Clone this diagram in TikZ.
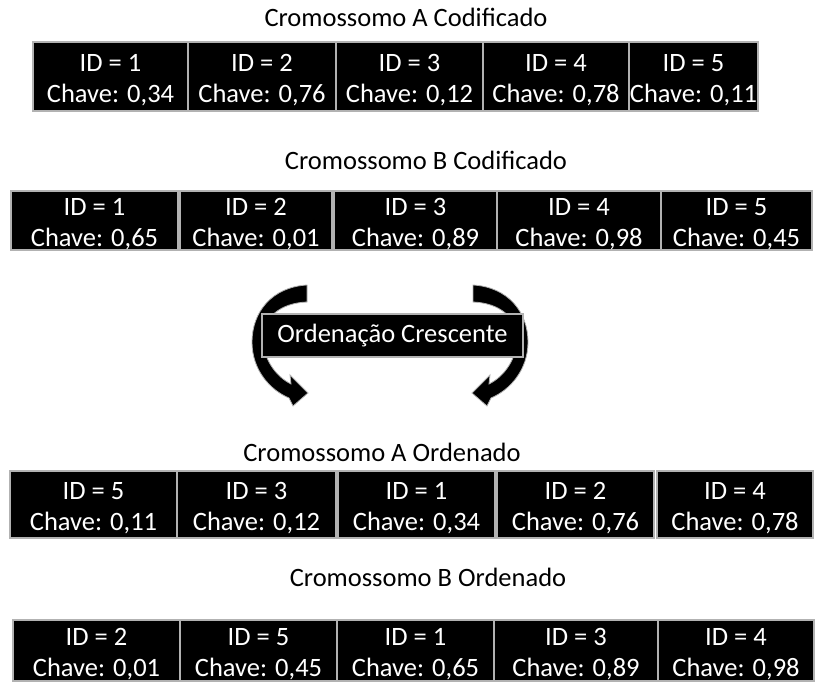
\documentclass[tikz,border=0pt]{standalone}
\usepackage{fontspec}
\setmainfont{Carlito}
\usepackage{tikz}
\usetikzlibrary{positioning,calc}

% one row of coded genes: prefix, top, bottom, list of left/right/id/key
\newcommand{\generow}[4]{%
  \foreach \xa/\xb/\gid/\gkey [count=\i] in {#4} {
    \pgfmathsetmacro\gw{\xb-\xa}
    \pgfmathsetmacro\gh{#3-#2}
    \node[gene, minimum width=\gw pt, minimum height=\gh pt] (#1\i)
      at ({(\xa+\xb)/2},{(#2+#3)/2}) {\rule{0pt}{24pt}ID = \gid\\Chave: 0,\gkey};
  }%
}

\begin{document}
\begin{tikzpicture}[x=1pt, y=-1pt,
    txt/.style={font=\fontsize{26.5}{30.5}\selectfont, inner sep=0pt},
    gene/.style={txt, draw=gray!60, line width=1.2pt, fill=black, text=white, align=center},
    sortarrow/.pic={
        \filldraw[fill=black, draw=gray!60, line width=0.8pt]
            (307,285) .. controls (272,287) and (252,312) .. (252,342)
            .. controls (252,370) and (270,390) .. (289,398)
            -- (293,406) -- (308,393) -- (290,375) -- (291,384)
            .. controls (275,376) and (263,358) .. (263,338)
            .. controls (263,318) and (280,303) .. (307,302) -- cycle;
    }]
    \useasboundingbox (0,0) rectangle (823,682);

    % coded chromosomes
    \node[txt] (titleA) at (406,17) {Cromossomo A Codificado};
    \generow{codA}{42}{111}{33/188/1/34, 188/336/2/76, 336/483/3/12, 483/629/4/78, 629/758/5/11}

    \node[txt] (titleB) at (426,160) {Cromossomo B Codificado};
    \generow{codB}{191}{250}{11/178/1/65, 180/332/2/01, 334/497/3/89, 497/661/4/98, 661/812/5/45}

    % sorting step
    \pic at (0,0) {sortarrow};
    \pic[xscale=-1] at (780,0) {sortarrow};
    \node[gene, minimum width=261pt, minimum height=43pt] (sortbox) at (392.5,335.5) {Ordenação Crescente};

    % sorted chromosomes
    \node[txt] (titleC) at (382,452) {Cromossomo A Ordenado};
    \generow{ordA}{471}{538}{10/177/5/11, 177/336/3/12, 338/495/1/34, 497/654/2/76, 657/813/4/78}

    \node[txt] (titleD) at (428,577) {Cromossomo B Ordenado};
    \generow{ordB}{620}{681}{13/180/2/01, 180/337/5/45, 337/494/1/65, 494/658/3/89, 658/814/4/98}
\end{tikzpicture}
\end{document}
